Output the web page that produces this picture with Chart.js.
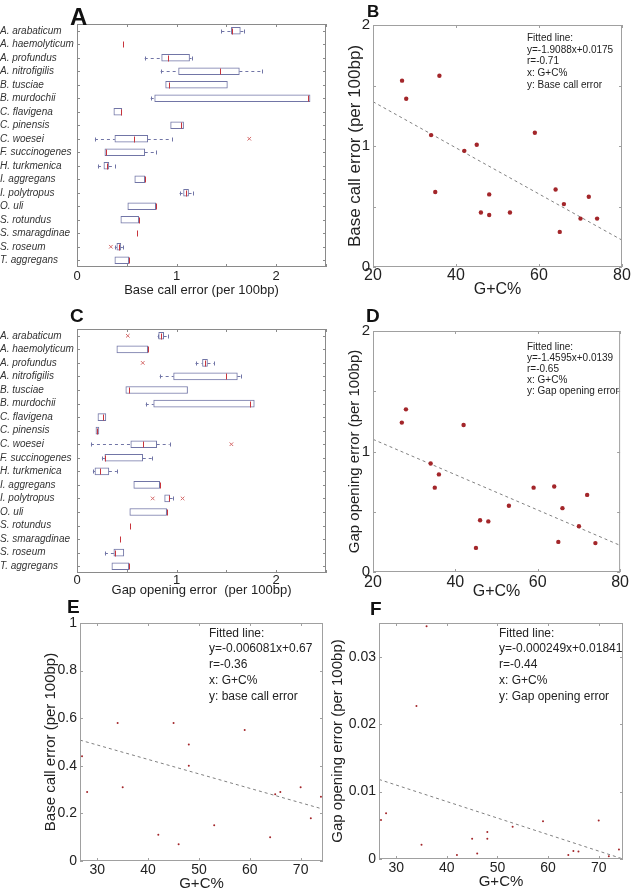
<!DOCTYPE html>
<html>
<head>
<meta charset="utf-8">
<script src="https://cdn.jsdelivr.net/npm/chart.js@4.4.1/dist/chart.umd.min.js"></script>
<style>
  body { margin: 0; background: #fff; }
  #wrap { position: relative; width: 632px; height: 893px; overflow: hidden; }
  canvas { position: absolute; }
</style>
</head>
<body>
<div id="wrap">
  <canvas id="cA" width="330" height="300" style="left:0;top:0"></canvas>
  <canvas id="cB" width="302" height="300" style="left:330px;top:0"></canvas>
  <canvas id="cC" width="330" height="300" style="left:0;top:300px"></canvas>
  <canvas id="cD" width="302" height="300" style="left:330px;top:300px"></canvas>
  <canvas id="cE" width="330" height="293" style="left:0;top:600px"></canvas>
  <canvas id="cF" width="302" height="293" style="left:330px;top:600px"></canvas>
</div>
<script>
const species = ['A. arabaticum', 'A. haemolyticum', 'A. profundus', 'A. nitrofigilis', 'B. tusciae',
  'B. murdochii', 'C. flavigena', 'C. pinensis', 'C. woesei', 'F. succinogenes', 'H. turkmenica',
  'I. aggregans', 'I. polytropus', 'O. uli', 'S. rotundus', 'S. smaragdinae', 'S. roseum', 'T. aggregans'];

// panel A - base call error boxes
const baseQ1  = [1.55, 0.457, 0.85, 1.02, 0.89, 0.78, 0.37, 0.94, 0.38, 0.28, 0.27, 0.58, 1.07, 0.51, 0.44, 0.60, 0.40, 0.38];
const baseQ3  = [1.64, 0.457, 1.13, 1.63, 1.51, 2.34, 0.45, 1.07, 0.71, 0.68, 0.32, 0.68, 1.12, 0.79, 0.62, 0.60, 0.44, 0.52];
const baseMed = [1.56, 0.457, 0.91, 1.44, 0.92, 2.32, 0.44, 1.04, 0.57, 0.29, 0.30, 0.68, 1.09, 0.79, 0.62, 0.60, 0.42, 0.52];
const baseLo  = [1.45, 0.457, 0.68, 0.84, 0.89, 0.74, 0.37, 0.94, 0.18, 0.28, 0.21, 0.58, 1.03, 0.51, 0.44, 0.60, 0.38, 0.38];
const baseHi  = [1.68, 0.457, 1.15, 1.86, 1.51, 2.34, 0.45, 1.07, 0.95, 0.79, 0.38, 0.68, 1.16, 0.79, 0.62, 0.60, 0.46, 0.52];
const baseOut = [[8, 1.73], [16, 0.34]];

// panel C - gap opening error boxes
const gapQ1  = [0.82, 0.40, 1.26, 0.97, 0.49, 0.77, 0.21, 0.19, 0.54, 0.28, 0.18, 0.57, 0.88, 0.53, 0.53, 0.43, 0.37, 0.35];
const gapQ3  = [0.87, 0.71, 1.31, 1.61, 1.11, 1.78, 0.29, 0.22, 0.80, 0.66, 0.32, 0.83, 0.93, 0.90, 0.53, 0.43, 0.47, 0.52];
const gapMed = [0.84, 0.71, 1.29, 1.50, 0.52, 1.74, 0.26, 0.20, 0.66, 0.28, 0.23, 0.83, 0.92, 0.90, 0.53, 0.43, 0.38, 0.52];
const gapLo  = [0.81, 0.40, 1.19, 0.83, 0.49, 0.69, 0.21, 0.19, 0.14, 0.25, 0.16, 0.57, 0.88, 0.53, 0.53, 0.43, 0.28, 0.35];
const gapHi  = [0.91, 0.71, 1.38, 1.65, 1.11, 1.78, 0.29, 0.22, 0.93, 0.75, 0.40, 0.83, 0.96, 0.90, 0.53, 0.43, 0.47, 0.52];
const gapOut = [[0, 0.51], [2, 0.66], [8, 1.55], [12, 0.76], [12, 1.06]];

// panel B
const gcB = [27, 28, 36, 34, 35, 42, 45, 46, 48, 48, 53, 59, 64, 65, 66, 70, 72, 74];
const baseErrB = [1.54, 1.39, 1.58, 1.09, 0.62, 0.96, 1.01, 0.45, 0.60, 0.43, 0.45, 1.11, 0.64, 0.29, 0.52, 0.40, 0.58, 0.40];
const fitBx = [20, 80], fitBy = [1.366, 0.222];

// panel D
const gcD = [27, 28, 42, 34, 36, 35, 53, 59, 64, 72, 66, 46, 48, 70, 65, 74, 45];
const gapErrD = [1.24, 1.35, 1.22, 0.90, 0.81, 0.70, 0.55, 0.70, 0.71, 0.64, 0.53, 0.43, 0.42, 0.38, 0.25, 0.24, 0.20];
const fitDx = [20, 80], fitDy = [1.101, 0.221];

// panel E
const gcE = [27, 28, 34, 35, 42, 45, 46, 48, 48, 53, 59, 64, 65, 66, 70, 72, 74];
const baseErrE = [0.44, 0.29, 0.58, 0.31, 0.11, 0.58, 0.07, 0.49, 0.40, 0.15, 0.55, 0.10, 0.28, 0.29, 0.31, 0.18, 0.27];
const fitEx = [26.6, 74.4], fitEy = [0.508, 0.218];

// panel F
const gcF = [27, 28, 36, 34, 35, 42, 45, 46, 48, 48, 53, 59, 64, 65, 66, 70, 72, 74];
const gapErrF = [0.0058, 0.0068, 0.0345, 0.0227, 0.0021, 0.0006, 0.0030, 0.0008, 0.0040, 0.0030, 0.0048, 0.0056, 0.0006, 0.0012, 0.0011, 0.0057, 0.0004, 0.0014];
const fitFx = [26.6, 74.8], fitFy = [0.0118, 0.0];

const gcTicks = [30, 40, 50, 60, 70];

const BOX = '#7175a6';
const MED = '#c8343c';
const DOT = '#a3262a';
const FONT = "'Liberation Sans', Arial, Helvetica, sans-serif";

Chart.defaults.font.family = FONT;
Chart.defaults.color = '#222';

// MATLAB-ish frame with inward ticks
const frameTicks = {
  id: 'frameTicks',
  afterDatasetsDraw(chart, args, opts) {
    const { ctx, chartArea: a, scales } = chart;
    ctx.save();
    ctx.strokeStyle = opts.color || '#8c8c8c';
    ctx.lineWidth = 1;
    ctx.strokeRect(a.left + 0.5, a.top + 0.5, a.right - a.left - 1, a.bottom - a.top - 1);
    const len = 3;
    ctx.beginPath();
    scales.x.ticks.forEach((t, i) => {
      const px = Math.round(scales.x.getPixelForTick(i)) + 0.5;
      ctx.moveTo(px, a.bottom); ctx.lineTo(px, a.bottom - len);
      ctx.moveTo(px, a.top); ctx.lineTo(px, a.top + len);
    });
    scales.y.ticks.forEach((t, i) => {
      const py = Math.round(scales.y.getPixelForTick(i)) + 0.5;
      ctx.moveTo(a.left, py); ctx.lineTo(a.left + len, py);
      ctx.moveTo(a.right, py); ctx.lineTo(a.right - len, py);
    });
    ctx.stroke();
    ctx.restore();
  }
};

// whiskers, medians and outliers for the box panels
const boxExtras = {
  id: 'boxExtras',
  afterDatasetsDraw(chart, args, o) {
    if (!o.med) return;
    const { ctx, scales: { x, y } } = chart;
    const h = 3.5;
    ctx.save();
    ctx.lineWidth = 1;
    o.med.forEach((m, i) => {
      const py = Math.round(y.getPixelForValue(i)) + 0.5;
      const xq1 = x.getPixelForValue(o.q1[i]), xq3 = x.getPixelForValue(o.q3[i]);
      ctx.strokeStyle = BOX;
      if (o.lo[i] < o.q1[i]) {
        const xl = x.getPixelForValue(o.lo[i]);
        ctx.setLineDash([3, 3]);
        ctx.beginPath(); ctx.moveTo(xl, py); ctx.lineTo(xq1, py); ctx.stroke();
        ctx.setLineDash([]);
        ctx.beginPath(); ctx.moveTo(Math.round(xl) + 0.5, py - 2); ctx.lineTo(Math.round(xl) + 0.5, py + 2); ctx.stroke();
      }
      if (o.hi[i] > o.q3[i]) {
        const xh = x.getPixelForValue(o.hi[i]);
        ctx.setLineDash([3, 3]);
        ctx.beginPath(); ctx.moveTo(xq3, py); ctx.lineTo(xh, py); ctx.stroke();
        ctx.setLineDash([]);
        ctx.beginPath(); ctx.moveTo(Math.round(xh) + 0.5, py - 2); ctx.lineTo(Math.round(xh) + 0.5, py + 2); ctx.stroke();
      }
      const xm = Math.round(x.getPixelForValue(m)) + 0.5;
      ctx.strokeStyle = MED;
      ctx.beginPath(); ctx.moveTo(xm, py - h + 0.5); ctx.lineTo(xm, py + h - 0.5); ctx.stroke();
    });
    ctx.strokeStyle = '#d46a6a';
    o.out.forEach(([i, v]) => {
      const px = x.getPixelForValue(v), py = y.getPixelForValue(i);
      ctx.beginPath();
      ctx.moveTo(px - 1.8, py - 1.8); ctx.lineTo(px + 1.8, py + 1.8);
      ctx.moveTo(px - 1.8, py + 1.8); ctx.lineTo(px + 1.8, py - 1.8);
      ctx.stroke();
    });
    ctx.restore();
  }
};

// panel letter and the fitted-line note
const panelText = {
  id: 'panelText',
  afterDraw(chart, args, o) {
    if (!o.letter) return;
    const { ctx, chartArea: a } = chart;
    ctx.save();
    ctx.fillStyle = '#111';
    ctx.textBaseline = 'alphabetic';
    ctx.textAlign = 'left';
    ctx.font = `bold ${o.letterSize}px ${FONT}`;
    ctx.fillText(o.letter, o.letterX, o.letterY);
    if (o.lines) {
      ctx.font = `${o.lineSize}px ${FONT}`;
      ctx.textBaseline = 'middle';
      ctx.fillStyle = '#222';
      o.lines.forEach((t, k) => ctx.fillText(t, a.left + o.dx, a.top + o.dy + k * o.gap));
    }
    ctx.restore();
  }
};

Chart.register(frameTicks, boxExtras, panelText);

function boxChart(id, st, xTitle, lay) {
  const boxData = species.map((s, i) => st.q3[i] > st.q1[i] ? [st.q1[i], st.q3[i]] : null);
  return new Chart(document.getElementById(id), {
    type: 'bar',
    data: {
      labels: species,
      datasets: [{
        data: boxData,
        backgroundColor: '#fff',
        borderColor: BOX,
        borderWidth: 1,
        borderSkipped: false,
        barThickness: 7
      }]
    },
    options: {
      indexAxis: 'y',
      responsive: false,
      animation: false,
      devicePixelRatio: 1,
      layout: { padding: { top: lay.top, right: lay.right, left: 0, bottom: 0 } },
      plugins: {
        legend: { display: false },
        tooltip: { enabled: false },
        boxExtras: st,
        panelText: lay.text,
        frameTicks: { color: '#8a8a8a' }
      },
      scales: {
        x: {
          min: 0, max: 2.5,
          grid: { display: false, drawTicks: false },
          border: { display: false },
          ticks: {
            stepSize: 0.5, autoSkip: false, maxRotation: 0, padding: lay.tickPad,
            font: { size: 13, lineHeight: 1 },
            callback: v => Number.isInteger(v) ? v : ''
          },
          title: { display: true, text: xTitle, font: { size: 13, lineHeight: 1 }, padding: { top: 0, bottom: lay.titlePad } },
          afterFit: s => { s.height = lay.xh; }
        },
        y: {
          grid: { display: false, drawTicks: false },
          border: { display: false },
          ticks: { font: { size: 10, style: 'italic' }, color: '#333', crossAlign: 'far', padding: 0, autoSkip: false },
          afterFit: s => { s.width = 77; }
        }
      }
    }
  });
}

function scatterChart(id, xs, ys, fx, fy, lay) {
  const xAxis = {
    min: lay.xmin, max: lay.xmax,
    grid: { display: false, drawTicks: false },
    border: { display: false },
    ticks: { padding: lay.xTickPad, font: { size: lay.xTickSize, lineHeight: 1 }, maxRotation: 0, autoSkip: false, includeBounds: false },
    title: { display: true, text: 'G+C%', font: { size: lay.xTitleSize, lineHeight: 1 }, padding: { top: 0, bottom: lay.xTitlePad } },
    afterFit: s => { s.height = lay.xh; }
  };
  if (lay.xStep) xAxis.ticks.stepSize = lay.xStep;
  else xAxis.afterBuildTicks = s => { s.ticks = gcTicks.map(v => ({ value: v })); };
  const yTicks = {
    padding: 3, font: { size: lay.yTickSize, lineHeight: 1 }, stepSize: lay.yStep, autoSkip: false, includeBounds: false,
    callback: lay.intLabels ? (v => Number.isInteger(v) ? v : '') : (v => String(Number(v.toFixed(4))))
  };
  return new Chart(document.getElementById(id), {
    type: 'scatter',
    data: {
      datasets: [{
        data: xs.map((x, i) => ({ x, y: ys[i] })),
        backgroundColor: DOT,
        borderColor: DOT,
        borderWidth: 0,
        pointRadius: lay.r
      }, {
        data: fx.map((x, i) => ({ x, y: fy[i] })),
        showLine: true,
        borderColor: '#808080',
        borderWidth: 1,
        borderDash: [3, 3],
        pointRadius: 0
      }]
    },
    options: {
      responsive: false,
      animation: false,
      devicePixelRatio: 1,
      layout: { padding: { top: lay.top, right: lay.right, left: 0, bottom: 0 } },
      plugins: {
        legend: { display: false },
        tooltip: { enabled: false },
        panelText: lay.text,
        frameTicks: { color: '#a0a0a0' }
      },
      scales: {
        x: xAxis,
        y: {
          min: lay.ymin, max: lay.ymax,
          grid: { display: false, drawTicks: false },
          border: { display: false },
          ticks: yTicks,
          title: { display: true, text: lay.yTitle, font: { size: lay.yTitleSize, lineHeight: 1 }, padding: { top: lay.yTitlePad, bottom: 0 } },
          afterFit: s => { s.width = lay.yw; }
        }
      }
    }
  });
}

boxChart('cA', { q1: baseQ1, q3: baseQ3, med: baseMed, lo: baseLo, hi: baseHi, out: baseOut },
  'Base call error (per 100bp)',
  { top: 24, right: 4, xh: 33, tickPad: 2.5, titlePad: 3.5,
    text: { letter: 'A', letterX: 70, letterY: 25, letterSize: 24 } });

boxChart('cC', { q1: gapQ1, q3: gapQ3, med: gapMed, lo: gapLo, hi: gapHi, out: gapOut },
  'Gap opening error  (per 100bp)',
  { top: 29, right: 4, xh: 27, tickPad: 0.5, titlePad: 3.5,
    text: { letter: 'C', letterX: 70, letterY: 22, letterSize: 19 } });

scatterChart('cB', gcB, baseErrB, fitBx, fitBy, {
  xmin: 20, xmax: 80, xStep: 20, ymin: 0, ymax: 2, yStep: 0.5, intLabels: true,
  top: 25, right: 10, yw: 43, xh: 33, xTickPad: 1, xTitlePad: 2, xTickSize: 16, xTitleSize: 16,
  yTickSize: 15, yTitle: 'Base call error (per 100bp)', yTitleSize: 17, yTitlePad: 17.2, r: 2.2,
  text: { letter: 'B', letterX: 37, letterY: 17, letterSize: 17,
    lines: ['Fitted line:', 'y=-1.9088x+0.0175', 'r=-0.71', 'x: G+C%', 'y: Base call error'],
    dx: 154, dy: 13.3, gap: 11.7, lineSize: 10 }
});

scatterChart('cD', gcD, gapErrD, fitDx, fitDy, {
  xmin: 20, xmax: 80, xStep: 20, ymin: 0, ymax: 2, yStep: 0.5, intLabels: true,
  top: 31, right: 10, yw: 43, xh: 28, xTickPad: 3, xTitlePad: 0, xTickSize: 16, xTitleSize: 16,
  yTickSize: 15, yTitle: 'Gap opening error (per 100bp)', yTitleSize: 15, yTitlePad: 17.5, r: 2.2,
  text: { letter: 'D', letterX: 36, letterY: 22, letterSize: 19,
    lines: ['Fitted line:', 'y=-1.4595x+0.0139', 'r=-0.65', 'x: G+C%', 'y: Gap opening error'],
    dx: 154, dy: 16.3, gap: 11, lineSize: 10 }
});

scatterChart('cE', gcE, baseErrE, fitEx, fitEy, {
  xmin: 26.6, xmax: 74.4, ymin: 0, ymax: 1, yStep: 0.2,
  top: 23, right: 7, yw: 80, xh: 32, xTickPad: 2.5, xTitlePad: 1.5, xTickSize: 14, xTitleSize: 15,
  yTickSize: 14, yTitle: 'Base call error (per 100bp)', yTitleSize: 15, yTitlePad: 43.5, r: 1,
  text: { letter: 'E', letterX: 67, letterY: 13, letterSize: 19,
    lines: ['Fitted line:', 'y=-0.006081x+0.67', 'r=-0.36', 'x: G+C%', 'y: base call error'],
    dx: 129, dy: 10.3, gap: 15.8, lineSize: 12 }
});

scatterChart('cF', gcF, gapErrF, fitFx, fitFy, {
  xmin: 26.6, xmax: 74.8, ymin: 0, ymax: 0.035, yStep: 0.01,
  top: 23, right: 9, yw: 49, xh: 34, xTickPad: 2, xTitlePad: 4, xTickSize: 14, xTitleSize: 15,
  yTickSize: 14, yTitle: 'Gap opening error (per 100bp)', yTitleSize: 15, yTitlePad: 0.5, r: 1,
  text: { letter: 'F', letterX: 40, letterY: 15, letterSize: 19,
    lines: ['Fitted line:', 'y=-0.000249x+0.01841', 'r=-0.44', 'x: G+C%', 'y: Gap opening error'],
    dx: 120, dy: 10.3, gap: 15.8, lineSize: 12 }
});
</script>
</body>
</html>
